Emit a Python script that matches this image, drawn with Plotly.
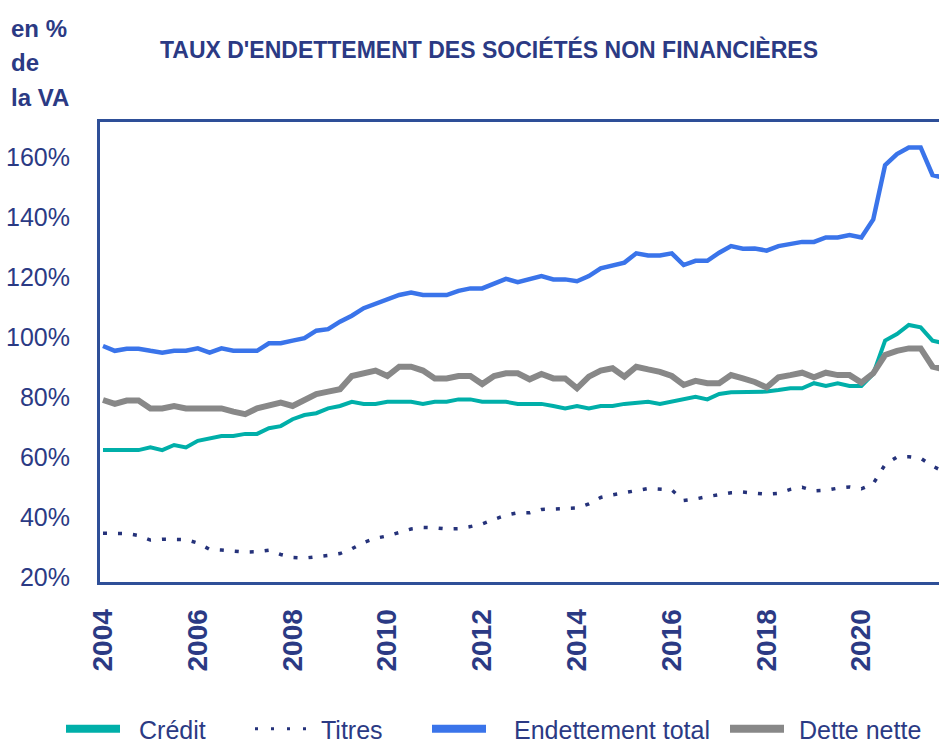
import plotly.graph_objects as go

# Quarterly periods, 2004-Q1 .. 2021-Q4
years = list(range(2004, 2022))
quarters = [(y, q) for y in years for q in (1, 2, 3, 4)]

credit = [62.3, 62.3, 62.3, 62.3, 63.2, 62.3, 64.0, 63.2,
          65.4, 66.2, 67.0, 67.0, 67.7, 67.7, 69.6, 70.3,
          72.6, 74.0, 74.6, 76.2, 77.0, 78.4, 77.7, 77.7,
          78.4, 78.4, 78.4, 77.7, 78.4, 78.4, 79.2, 79.2,
          78.4, 78.4, 78.4, 77.7, 77.7, 77.7, 77.0, 76.2,
          77.0, 76.2, 77.0, 77.0, 77.7, 77.9, 78.4, 77.7,
          78.4, 79.2, 80.1, 79.2, 81.0, 81.6, 81.6, 81.5,
          81.8, 82.3, 82.9, 82.9, 84.6, 83.7, 84.6, 83.7,
          83.7, 87.7, 98.8, 101.0, 104.0, 103.2, 98.8, 97.9]

titres = [34.6, 34.6, 34.5, 33.8, 32.3, 32.6, 32.6, 32.5,
          31.3, 29.2, 29.0, 28.6, 28.3, 28.4, 28.9, 27.5,
          26.5, 26.3, 26.7, 27.2, 27.8, 29.4, 31.5, 32.9,
          33.7, 35.0, 36.0, 36.5, 36.4, 36.0, 36.1, 36.8,
          37.7, 39.2, 40.6, 41.4, 41.4, 42.5, 42.7, 42.7,
          43.0, 44.4, 46.5, 47.4, 48.0, 48.8, 49.5, 49.2,
          49.0, 45.5, 46.0, 46.8, 47.5, 48.1, 48.3, 48.0,
          47.6, 47.9, 49.2, 49.9, 48.7, 48.9, 49.6, 50.0,
          49.4, 51.1, 57.5, 60.0, 60.1, 59.6, 57.0, 55.0]

endettement_total = [97.0, 95.4, 96.1, 96.1, 95.4, 94.8, 95.4, 95.4,
                     96.2, 94.8, 96.2, 95.4, 95.4, 95.4, 97.9, 97.9,
                     98.8, 99.6, 102.1, 102.6, 105.1, 107.1, 109.6, 111.2,
                     112.6, 114.0, 114.8, 114.0, 114.0, 114.0, 115.4, 116.2,
                     116.2, 117.9, 119.4, 118.3, 119.2, 120.3, 119.2, 119.2,
                     118.6, 120.3, 122.9, 123.9, 124.8, 127.9, 127.2, 127.2,
                     127.9, 124.0, 125.4, 125.4, 128.1, 130.3, 129.4, 129.5,
                     128.8, 130.3, 131.0, 131.7, 131.7, 133.2, 133.2, 134.0,
                     133.2, 139.2, 157.3, 161.0, 163.2, 163.2, 154.0, 153.0]

dette_nette = [79.0, 77.7, 78.8, 78.8, 76.2, 76.2, 77.0, 76.2,
               76.2, 76.2, 76.2, 75.1, 74.3, 76.2, 77.3, 78.1,
               77.0, 78.8, 81.0, 81.8, 82.6, 87.0, 87.9, 88.8,
               87.0, 90.1, 90.1, 88.8, 86.2, 86.2, 87.0, 87.0,
               84.3, 87.0, 87.9, 87.9, 85.9, 87.7, 86.2, 86.2,
               82.9, 86.8, 88.8, 89.6, 86.8, 90.1, 89.2, 88.4,
               87.0, 84.0, 85.4, 84.6, 84.6, 87.3, 86.2, 85.0,
               83.2, 86.6, 87.3, 88.1, 86.6, 88.1, 87.3, 87.3,
               84.8, 87.9, 94.0, 95.4, 96.2, 96.2, 90.1, 89.2]

x_ticks = [2004, 2006, 2008, 2010, 2012, 2014, 2016, 2018, 2020]
x_ticktext = [str(v) for v in x_ticks]
y_ticks = [20, 40, 60, 80, 100, 120, 140, 160]
y_ticktext = [f"{v}%" for v in y_ticks]

x = [y + (q - 1) / 4 for (y, q) in quarters]

FONT = "Liberation Sans, Arial, sans-serif"
NAVY = "#2B3A84"
AXIS = "#2E4F98"

KEY = "54px,400px"  # legend key: 54px solid stroke, then blank
series = [
    ("Crédit", credit, dict(color="#00AFA9", width=4),
     dict(color="#00AFA9", width=8, dash=KEY), "legend", 61, 68),
    ("Titres", titres, dict(color="#25327A", width=3.5, dash="4px,11px"),
     dict(color="#25327A", width=3, dash="3px,13px"), "legend2", 250, 61),
    ("Endettement total", endettement_total, dict(color="#3A74EA", width=4.5),
     dict(color="#3A74EA", width=8, dash=KEY), "legend3", 427, 77),
    ("Dette nette", dette_nette, dict(color="#888888", width=6),
     dict(color="#888888", width=8, dash=KEY), "legend4", 725, 64),
]

fig = go.Figure()
for name, vals, line, *_ in series:
    fig.add_trace(go.Scatter(x=x, y=vals, name=name, mode="lines",
                             line=line, showlegend=False))
# legend entries (no data points, only the legend key)
legends = {}
for name, _, _, lline, lg, lx, iw in series:
    fig.add_trace(go.Scatter(x=[None], y=[None], name=name, mode="lines",
                             line=lline, legend=lg, showlegend=True))
    legends[lg] = dict(orientation="h", xref="container", yref="container",
                       x=lx / 939, xanchor="left", y=(742 - 729) / 742,
                       yanchor="middle", itemwidth=iw,
                       font=dict(family=FONT, size=25, color=NAVY),
                       bgcolor="rgba(0,0,0,0)")

fig.update_layout(
    width=939, height=742,
    margin=dict(l=100, r=0, t=122, b=160),
    plot_bgcolor="white", paper_bgcolor="white",
    title=dict(text="TAUX D'ENDETTEMENT DES SOCIÉTÉS NON FINANCIÈRES",
               x=489 / 939, xanchor="center", y=1 - 50 / 742, yanchor="middle",
               font=dict(family=FONT, size=23, color=NAVY, weight="bold")),
    showlegend=True,
    **legends,
    xaxis=dict(range=[2003.937, 2021.637], tickmode="array",
               tickvals=x_ticks, ticktext=x_ticktext, tickangle=-90,
               tickfont=dict(family=FONT, size=28, color=NAVY, weight="bold"),
               showgrid=False, zeroline=False, showline=True, linecolor=AXIS,
               linewidth=3, mirror=True, ticks="", ticklabelstandoff=13),
    yaxis=dict(range=[18.33, 171.67], tickmode="array", tickvals=y_ticks,
               ticktext=y_ticktext,
               tickfont=dict(family=FONT, size=25, color=NAVY),
               showgrid=False, zeroline=False, showline=True, linecolor=AXIS,
               linewidth=3, ticks="", ticklabelstandoff=22),
)

for txt, ypx in [("en %", 28), ("de", 62), ("la VA", 97)]:
    fig.add_annotation(text=txt, xref="paper", yref="paper",
                       x=(9 - 100) / 839, xanchor="left",
                       y=(582 - ypx) / 460, yanchor="middle",
                       showarrow=False,
                       font=dict(family=FONT, size=24, color=NAVY, weight="bold"))

fig.write_html("out.html", config={"displayModeBar": False},
               post_script="document.body.style.margin='0';"
                           "document.body.style.overflow='hidden';")
